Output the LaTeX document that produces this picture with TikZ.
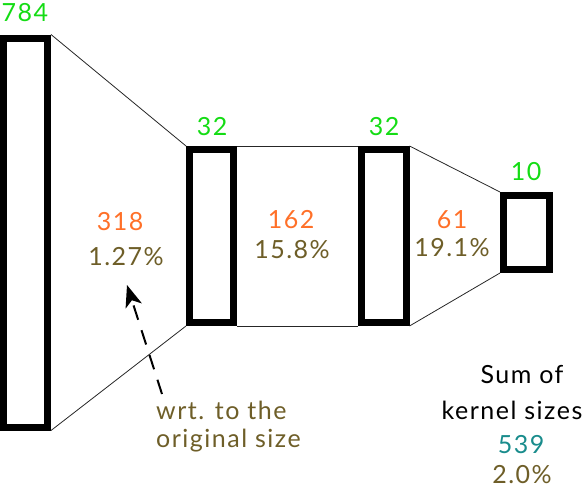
\documentclass[tikz,border=0pt]{standalone}
\usepackage{fontspec}
\setmainfont{Lato}[LetterSpace=6]
\usepackage{xcolor}
\usetikzlibrary{arrows.meta}

\definecolor{sizegreen}{RGB}{20,220,20}
\definecolor{kernorange}{RGB}{255,112,40}
\definecolor{percolive}{RGB}{110,94,40}
\definecolor{sumteal}{RGB}{25,140,140}

\tikzset{
  layer/.style={draw=black, line width=7pt, inner sep=0pt, fill=white},
  link/.style={draw=black!85, line width=0.8pt},
  lbl/.style={font=\fontsize{25}{28}\selectfont, inner sep=0pt}
}

\begin{document}
\begin{tikzpicture}[x=1pt, y=-1pt]
  % page frame
  \useasboundingbox (0,0) rectangle (586,490);

  % layers
  \node[layer, minimum width=44pt, minimum height=389pt] (in)  at (25.5,232.5) {};
  \node[layer, minimum width=44pt, minimum height=173pt] (hA)  at (211.5,236) {};
  \node[layer, minimum width=45pt, minimum height=173pt] (hB)  at (383.5,236) {};
  \node[layer, minimum width=46pt, minimum height=74pt]  (out) at (526.5,232.5) {};

  % connections between layers
  \draw[link] (in.north east) -- (hA.north west);
  \draw[link] (in.south east) -- (hA.south west);
  \draw[link] (hA.north east) -- (hB.north west);
  \draw[link] (hA.south east) -- (hB.south west);
  \draw[link] (hB.north east) -- (out.north west);
  \draw[link] (hB.south east) -- (out.south west);

  % layer sizes
  \node[lbl, sizegreen] (nIn)  at (25,13)   {784};
  \node[lbl, sizegreen] (nA)   at (212,127) {32};
  \node[lbl, sizegreen] (nB)   at (384,127) {32};
  \node[lbl, sizegreen] (nOut) at (526,172) {10};

  % kernel sizes
  \node[lbl, kernorange] (kA) at (120,222) {318};
  \node[lbl, percolive]  (pA) at (126,257) {1.27\%};
  \node[lbl, kernorange] (kB) at (291,220) {162};
  \node[lbl, percolive]  (pB) at (292,250) {15.8\%};
  \node[lbl, kernorange] (kC) at (452,220) {61};
  \node[lbl, percolive]  (pC) at (452,248) {19.1\%};

  % note
  \node[lbl, percolive, anchor=west] (wrt)  at (156,410) {wrt. to the};
  \node[lbl, percolive, anchor=west] (orig) at (156,441) {original size};
  \coordinate (tail) at (162,394);
  \coordinate (tip) at (127,285);
  \draw[line width=2pt, dash pattern=on 15pt off 11pt, -{Stealth[length=22pt, width=17pt, inset=6pt]}]
    (tail) -- (tip);

  % total
  \node[lbl] (sum)  at (522,375) {Sum of};
  \node[lbl] (kern) at (512,410) {kernel sizes};
  \node[lbl, sumteal]   (tot)  at (521,445) {539};
  \node[lbl, percolive] (totp) at (522,475) {2.0\%};
\end{tikzpicture}
\end{document}
